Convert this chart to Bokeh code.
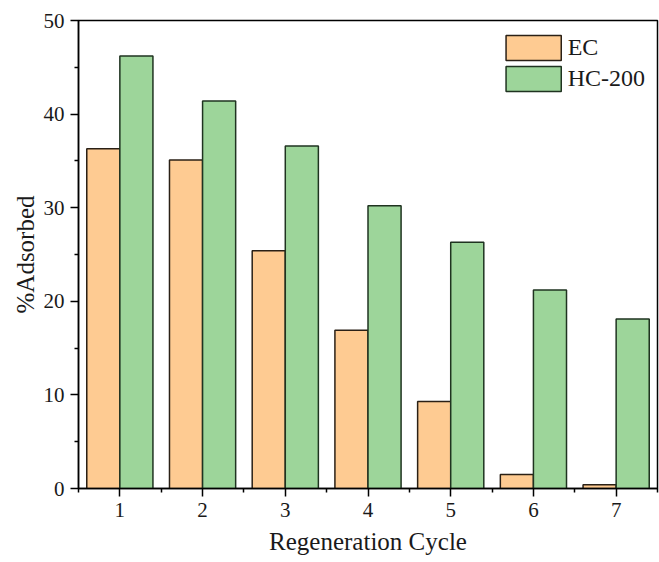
from bokeh.plotting import figure
from bokeh.models import ColumnDataSource, FixedTicker, Legend, LegendItem
from bokeh.transform import dodge
from bokeh.embed import file_html
from bokeh.resources import INLINE

cycles = [1, 2, 3, 4, 5, 6, 7]
ec_values = [36.3, 35.1, 25.4, 16.9, 9.3, 1.5, 0.4]
hc_values = [46.2, 41.4, 36.6, 30.2, 26.3, 21.2, 18.1]
series_names = ["EC", "HC-200"]
y_ticks = [0, 10, 20, 30, 40, 50]

FONT = "Liberation Serif"

source = ColumnDataSource(dict(cycle=cycles, ec=ec_values, hc=hc_values))

p = figure(width=659, height=562, x_range=(0.5, 7.5), y_range=(0, 50),
           output_backend="svg", toolbar_location=None,
           min_border_left=78, min_border_right=2, min_border_top=20, min_border_bottom=74)

r_ec = p.vbar(x=dodge("cycle", -0.2), top="ec", width=0.4, source=source,
              fill_color="#FECB92", line_color="#2a2016", line_width=1.5)
r_hc = p.vbar(x=dodge("cycle", 0.2), top="hc", width=0.4, source=source,
              fill_color="#9DD59A", line_color="#1f3320", line_width=1.5)

p.xgrid.visible = False
p.ygrid.visible = False
p.outline_line_color = "black"
p.outline_line_width = 1.5
p.outline_line_alpha = 1.0
p.background_fill_color = "white"
p.border_fill_color = "white"

p.xaxis.ticker = FixedTicker(ticks=cycles, minor_ticks=[0.5, 1.5, 2.5, 3.5, 4.5, 5.5, 6.5, 7.5])
p.yaxis.ticker = FixedTicker(ticks=y_ticks, minor_ticks=[5, 15, 25, 35, 45])

for ax in (p.xaxis[0], p.yaxis[0]):
    ax.axis_line_color = "black"
    ax.axis_line_width = 1.5
    ax.major_tick_line_color = "black"
    ax.major_tick_line_width = 1.5
    ax.minor_tick_line_color = "black"
    ax.minor_tick_line_width = 1.5
    ax.major_tick_in = 0
    ax.major_tick_out = 8
    ax.minor_tick_in = 0
    ax.minor_tick_out = 4
    ax.major_label_text_font = FONT
    ax.major_label_text_font_size = "21px"
    ax.major_label_text_color = "#1a1a1a"
    ax.axis_label_text_font = FONT
    ax.axis_label_text_font_size = "25px"
    ax.axis_label_text_font_style = "normal"
    ax.axis_label_text_color = "#1a1a1a"

p.xaxis.axis_label = "Regeneration Cycle"
p.yaxis.axis_label = "%Adsorbed"
p.xaxis.major_label_standoff = 6
p.xaxis.axis_label_standoff = 8
p.yaxis.major_label_standoff = 6
p.yaxis.axis_label_standoff = 2

legend = Legend(items=[LegendItem(label=series_names[0], renderers=[r_ec]),
                       LegendItem(label=series_names[1], renderers=[r_hc])],
                location="top_right")
legend.label_text_font = FONT
legend.label_text_font_size = "24px"
legend.label_text_color = "#1a1a1a"
legend.glyph_width = 69
legend.glyph_height = 31
legend.label_height = 29
legend.spacing = 0
legend.padding = 5
legend.margin = 7
legend.label_standoff = 0
legend.border_line_alpha = 0
legend.background_fill_alpha = 0
p.add_layout(legend)

open("out.html", "w").write(file_html(p, INLINE))
